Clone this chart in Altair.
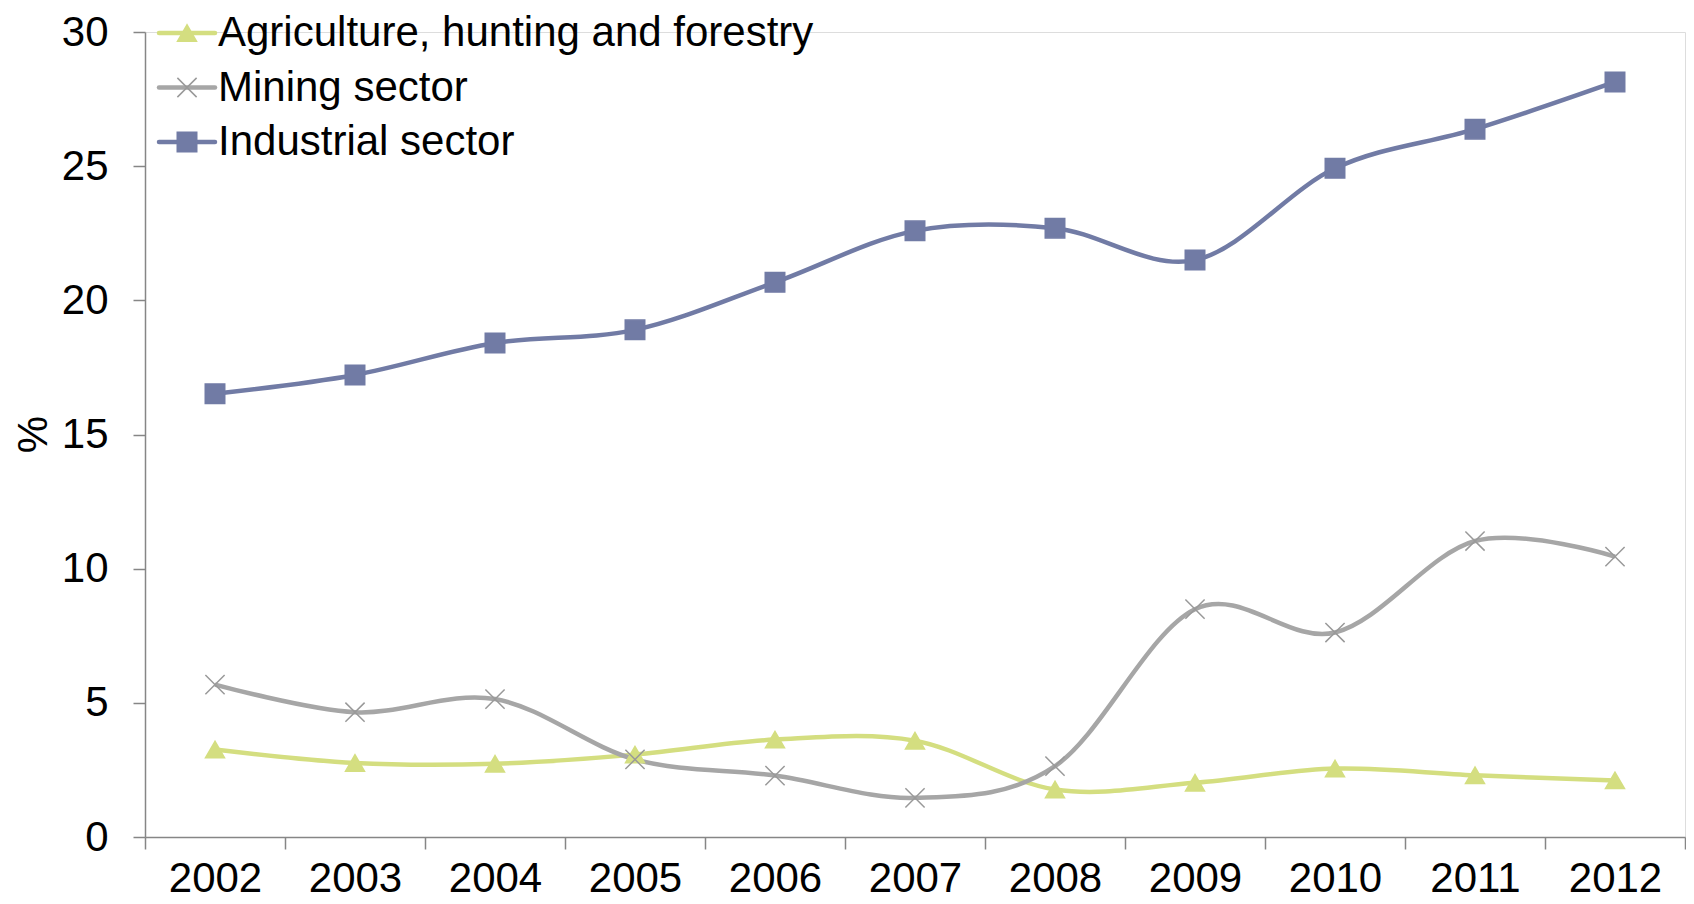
import altair as alt
import pandas as pd

years = [str(y) for y in range(2002, 2013)]
series = ["Agriculture, hunting and forestry", "Mining sector", "Industrial sector"]
agri = [3.26, 2.76, 2.73, 3.07, 3.63, 3.59, 1.77, 2.02, 2.55, 2.30, 2.11]
mining = [5.68, 4.65, 5.14, 2.89, 2.29, 1.46, 2.64, 8.49, 7.62, 11.03, 10.45]
industrial = [16.52, 17.22, 18.41, 18.90, 20.67, 22.59, 22.69, 21.50, 24.92, 26.38, 28.14]
colors = ["#D4DE80", "#A6A6A6", "#717BA5"]
marker_colors = ["#D4DE80", "#999999", "#717BA5"]
shapes = ["triangle-up", "M-1,-1L1,1M-1,1L1,-1", "square"]
sizes = [360, 380, 400]
y_ticks = [0, 5, 10, 15, 20, 25, 30]

rows = []
for s, vals in zip(series, [agri, mining, industrial]):
    for yr, v in zip(years, vals):
        rows.append({"series": s, "year": yr, "value": v, "order": series.index(s)})
df = pd.DataFrame(rows)
legend_df = pd.DataFrame({"series": series, "idx": list(range(len(series)))})

FONT = "Liberation Sans"
AXIS_COLOR = "#868686"

color_scale = alt.Scale(domain=series, range=colors)
mcolor_scale = alt.Scale(domain=series, range=marker_colors)
shape_scale = alt.Scale(domain=series, range=shapes)
size_scale = alt.Scale(domain=series, range=sizes)

x_enc = alt.X(
    "year:O",
    sort=years,
    scale=alt.Scale(type="band", paddingInner=0, paddingOuter=0),
    axis=alt.Axis(
        title=None, labelAngle=0, labelFontSize=42, labelFont=FONT, labelColor="black",
        tickBand="extent", tickSize=12, tickColor=AXIS_COLOR, tickWidth=1.5,
        domainColor=AXIS_COLOR, domainWidth=1.5, labelPadding=9,
    ),
)
y_enc = alt.Y(
    "value:Q",
    scale=alt.Scale(domain=[0, 30], nice=False),
    axis=alt.Axis(
        values=y_ticks, grid=False, title="%", titleFontSize=42, titleFont=FONT,
        titleFontWeight="normal", titleColor="black", titleX=-112, titleY=402,
        titleBaseline="middle", titleAlign="center", titleAngle=-90,
        labelFontSize=42, labelFont=FONT, labelColor="black", labelPadding=25,
        tickSize=12, tickColor=AXIS_COLOR, tickWidth=1.5,
        domainColor=AXIS_COLOR, domainWidth=1.5,
    ),
)

lines = alt.Chart(df).mark_line(interpolate="cardinal", strokeWidth=4.5).encode(
    x=x_enc,
    y=y_enc,
    color=alt.Color("series:N", scale=color_scale, legend=None),
    detail="series:N",
    order="order:Q",
)

points = alt.Chart(df).mark_point(filled=True, opacity=1, strokeWidth=1.5).encode(
    x=x_enc,
    y=y_enc,
    fill=alt.Fill("series:N", scale=mcolor_scale, legend=None),
    stroke=alt.Stroke("series:N", scale=mcolor_scale, legend=None),
    shape=alt.Shape("series:N", scale=shape_scale, legend=None),
    size=alt.Size("series:N", scale=size_scale, legend=None),
)

main = alt.layer(lines, points)

base_leg = alt.Chart(legend_df).transform_calculate(ly="1 + datum.idx * 54.5")
leg_y = alt.Y("ly:Q", scale=None, axis=None)

leg_rules = base_leg.mark_rule(strokeWidth=4.5, strokeCap="round").encode(
    x=alt.value(14), x2=alt.value(70), y=leg_y,
    color=alt.Color("series:N", scale=color_scale, legend=None),
)
leg_points = base_leg.mark_point(filled=True, opacity=1, strokeWidth=1.5).encode(
    x=alt.value(42), y=leg_y,
    fill=alt.Fill("series:N", scale=mcolor_scale, legend=None),
    stroke=alt.Stroke("series:N", scale=mcolor_scale, legend=None),
    shape=alt.Shape("series:N", scale=shape_scale, legend=None),
    size=alt.Size("series:N", scale=size_scale, legend=None),
)
leg_text = base_leg.mark_text(align="left", baseline="middle", fontSize=42, font=FONT, color="black").encode(
    x=alt.value(73), y=leg_y, text="series:N",
)

legend = alt.layer(leg_rules, leg_points, leg_text)

chart = (
    alt.layer(main, legend)
    .resolve_scale(y="independent")
    .properties(
        width=1540, height=805,
        autosize=alt.AutoSizeParams(type="none"),
        padding={"left": 137, "top": 24, "right": 1, "bottom": 67},
    )
    .configure_view(stroke=None)
    .configure(background="white")
)

chart.save("out.html", embed_options={"renderer": "svg", "actions": False})
